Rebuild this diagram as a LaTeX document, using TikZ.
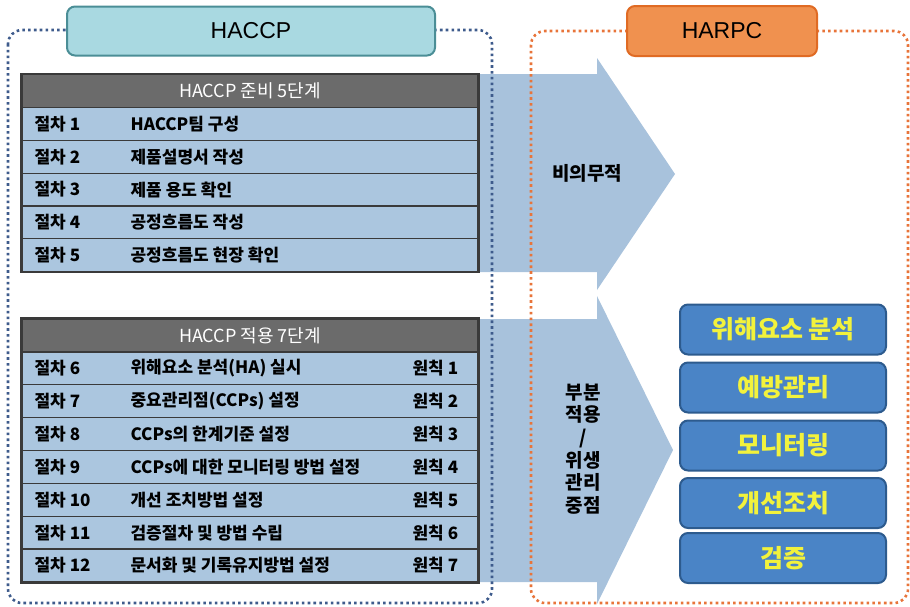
\documentclass[tikz,border=0pt]{standalone}
\usepackage{fontspec}
\setmainfont{Noto Sans CJK KR}
\newfontfamily\latfont{Liberation Sans}
\definecolor{arrowc}{HTML}{A8C2DC}
\definecolor{rowc}{HTML}{ABC6DF}
\definecolor{headc}{HTML}{6B6B6B}
\definecolor{linec}{HTML}{3A3A3A}
\definecolor{bdotc}{HTML}{3E5B8C}
\definecolor{odotc}{HTML}{E8743A}
\definecolor{tealfill}{HTML}{A9D9E1}
\definecolor{tealline}{HTML}{4B8E96}
\definecolor{orfill}{HTML}{F0914F}
\definecolor{orline}{HTML}{E06B24}
\definecolor{boxfill}{HTML}{4A84C6}
\definecolor{boxline}{HTML}{2D5B8E}
\definecolor{ytext}{HTML}{F2F23C}
\tikzset{
  dotbox/.style={line width=2.6pt, dash pattern=on 2.6pt off 3.2pt, rounded corners=14pt},
  titlebox/.style={rounded corners=8pt, line width=2pt, minimum height=49pt, inner sep=0pt,
     font=\latfont\fontsize{23}{25}\selectfont},
  headrow/.style={fill=headc, draw=linec, line width=1.2pt, minimum width=456pt, minimum height=33pt,
     inner sep=0pt, text=white, font=\fontsize{18}{20}\selectfont},
  tabrow/.style={fill=rowc, draw=linec, line width=1.2pt, minimum width=456pt, minimum height=32.8pt, inner sep=0pt},
  celltext/.style={anchor=west, inner sep=0pt, font=\bfseries\fontsize{17}{19}\selectfont},
  harpcbox/.style={fill=boxfill, draw=boxline, line width=2pt, rounded corners=8pt,
     minimum width=206pt, minimum height=50pt, inner sep=0pt, text=ytext,
     font=\bfseries\fontsize{25}{27}\selectfont},
  midtext/.style={inner sep=0pt, font=\bfseries\fontsize{19}{21}\selectfont}
}
\begin{document}
\begin{tikzpicture}[x=1pt,y=-1pt]
\useasboundingbox (0,0) rectangle (910,606);
% big arrows
\fill[arrowc] (22,74) -- (597,74) -- (597,58) -- (675,174) -- (597,290) -- (597,272) -- (22,272) -- cycle;
\fill[arrowc] (22,319) -- (597,319) -- (597,296) -- (673,450) -- (597,604) -- (597,582) -- (22,582) -- cycle;
% table 1
\node[headrow] (h1) at (250,91) {HACCP 준비 5단계};
\foreach \i/\a/\b in {1/HACCP팀 구성,2/제품설명서 작성,3/제품 용도 확인,4/공정흐름도 작성,5/공정흐름도 현장 확인}{
  \node[tabrow] (ra\i) at (250,{107.6+32.8*(\i-0.5)}) {};
  \node[celltext] (pa\i) at ([xshift=13pt]ra\i.west) {절차 \i};
  \node[celltext] (ta\i) at ([xshift=109pt]ra\i.west) {\a};
}
\draw[linec, line width=2pt] (h1.north west) rectangle (ra5.south east);
% table 2
\node[headrow] (h2) at (250,335.5) {HACCP 적용 7단계};
\foreach \i/\n/\a in {1/6/위해요소 분석(HA) 실시,2/7/중요관리점(CCPs) 설정,3/8/CCPs의 한계기준 설정,4/9/CCPs에 대한 모니터링 방법 설정,5/10/개선 조치방법 설정,6/11/검증절차 및 방법 수립,7/12/문서화 및 기록유지방법 설정}{
  \node[tabrow] (rb\i) at (250,{352+32.85*(\i-0.5)}) {};
  \node[celltext] (pb\i) at ([xshift=13pt]rb\i.west) {절차 \n};
  \node[celltext] (tb\i) at ([xshift=109pt]rb\i.west) {\a};
  \node[celltext] (wb\i) at ([xshift=391pt]rb\i.west) {원칙 \i};
}
\draw[linec, line width=2pt] (h2.north west) rectangle (rb7.south east);
% dotted frames
\draw[dotbox, bdotc] (8,30) rectangle (492,603);
\draw[dotbox, odotc] (531,31) rectangle (908,603);
% titles
\node[titlebox, fill=tealfill, draw=tealline, minimum width=368pt] (haccp) at (251,31) {HACCP};
\node[titlebox, fill=orfill, draw=orline, minimum width=190pt, minimum height=50pt] (harpc) at (722,31) {HARPC};
% arrow labels
\node[midtext] (nonmand) at (587,173) {비의무적};
\node[midtext, align=center, font=\bfseries\fontsize{19}{22.6}\selectfont] (partial) at (583,449) {부분\\적용\\/\\위생\\관리\\중점};
% HARPC boxes
\node[harpcbox] (k1) at (783,329.5) {위해요소 분석};
\node[harpcbox] (k2) at (783,387.5) {예방관리};
\node[harpcbox] (k3) at (783,445.5) {모니터링};
\node[harpcbox] (k4) at (783,503) {개선조치};
\node[harpcbox] (k5) at (783,558) {검증};
\end{tikzpicture}
\end{document}
